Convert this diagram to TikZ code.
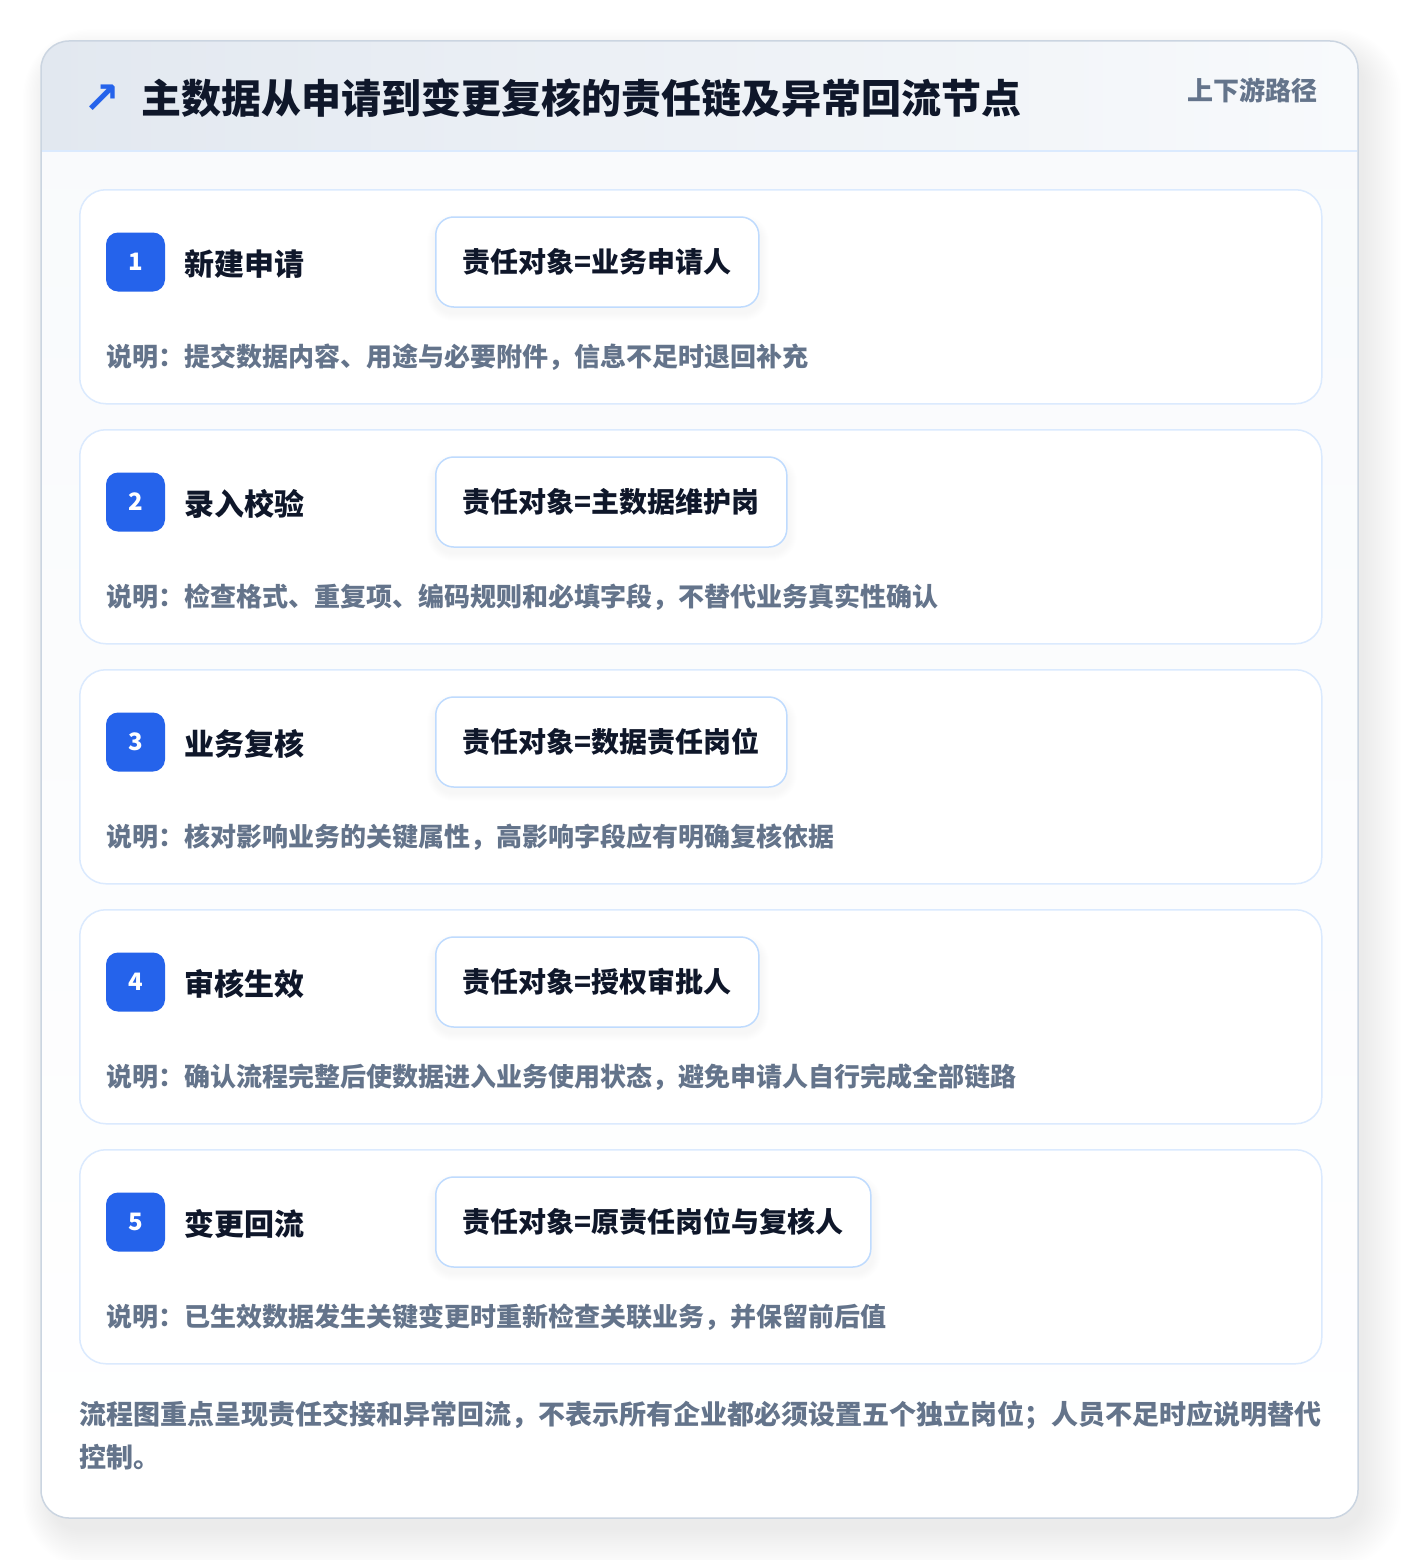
\documentclass[tikz,border=0pt]{standalone}
\usepackage{fontspec}
\setmainfont{Noto Sans CJK SC}
\newfontfamily\symfont{DejaVu Sans}
\definecolor{badgeblue}{HTML}{2563EB}
\definecolor{titledark}{HTML}{0F172A}
\definecolor{descgrey}{HTML}{64748B}
\definecolor{cardborder}{HTML}{DBEAFE}
\definecolor{respborder}{HTML}{BFDBFE}
\definecolor{outerborder}{HTML}{CBD5E1}
\definecolor{headleft}{HTML}{E2E8F0}
\definecolor{headright}{HTML}{F8FAFC}
\definecolor{bodytop}{HTML}{F8FAFC}
\tikzset{
  stepcard/.style={draw=cardborder, line width=1.5pt, fill=white, rounded corners=26pt, minimum width=1242pt, minimum height=214pt, inner sep=0pt},
  badge/.style={fill=badgeblue, rounded corners=12pt, minimum width=59pt, minimum height=59pt, inner sep=0pt, text=white, font=\bfseries\fontsize{24}{28}\selectfont},
  steptitle/.style={inner sep=0pt, text=titledark, font=\bfseries\fontsize{30}{36}\selectfont},
  respbox/.style={draw=respborder, line width=1.5pt, fill=white, rounded corners=18pt, minimum height=90pt, inner xsep=27pt, inner ysep=0pt, text=titledark, font=\bfseries\fontsize{28}{34}\selectfont},
  desc/.style={inner sep=0pt, text=descgrey, font=\bfseries\fontsize{26}{32}\selectfont},
  foot/.style={inner sep=0pt, text=descgrey, font=\bfseries\fontsize{27}{32}\selectfont},
}
\begin{document}
\begin{tikzpicture}[x=1pt,y=-1pt]
\useasboundingbox (0,0) rectangle (1400,1560);
\fill[white] (0,0) rectangle (1400,1560);
% outer shadow
\foreach \s in {1,...,20}{
  \pgfmathsetmacro\rr{28+2*\s}
  \fill[black, opacity=0.0045, rounded corners=\rr pt] (41-1.4*\s+10,41-1.4*\s+16) rectangle (1358+2*\s+4,1518+2*\s+10);
}
% card body
\shade[top color=bodytop, bottom color=white, rounded corners=28pt] (41,41) rectangle (1358,1518);
\begin{scope}
  \clip[rounded corners=28pt] (41,41) rectangle (1358,1518);
  \shade[left color=headleft, right color=headright] (41,41) rectangle (1358,151);
\end{scope}
\draw[cardborder, line width=1.5pt] (42,151) -- (1357,151);
\draw[outerborder, line width=1.5pt, rounded corners=28pt] (41,41) rectangle (1358,1518);
% header
\node[inner sep=0pt, text=badgeblue, font=\symfont\bfseries\fontsize{44}{50}\selectfont] (arrow) at (102,99) {↗};
\node[inner sep=0pt, anchor=west, text=titledark, font=\bfseries\fontsize{40}{48}\selectfont] (title) at (141,98) {主数据从申请到变更复核的责任链及异常回流节点};
\node[inner sep=0pt, anchor=east, text=descgrey, font=\bfseries\fontsize{26}{32}\selectfont] (tag) at (1318,90) {上下游路径};
% steps
\node[stepcard, anchor=north west] (card1) at (79,189) {};
\node[stepcard, anchor=north west] (card2) at (79,429) {};
\node[stepcard, anchor=north west] (card3) at (79,669) {};
\node[stepcard, anchor=north west] (card4) at (79,909) {};
\node[stepcard, anchor=north west] (card5) at (79,1149) {};
\foreach \n/\t/\w in {1/189/326,2/429/354,3/669/354,4/909/326,5/1149/438}{
  \foreach \s in {1,...,8}{
    \pgfmathsetmacro\rr{18+\s}
    \fill[black, opacity=0.005, rounded corners=\rr pt] (435-\s,\t+28+6-\s) rectangle (435+\w+\s,\t+118+6+\s);
  }
}
\foreach \n/\t/\a/\b/\c in {
  1/189/新建申请/责任对象=业务申请人/说明：提交数据内容、用途与必要附件，信息不足时退回补充,
  2/429/录入校验/责任对象=主数据维护岗/说明：检查格式、重复项、编码规则和必填字段，不替代业务真实性确认,
  3/669/业务复核/责任对象=数据责任岗位/说明：核对影响业务的关键属性，高影响字段应有明确复核依据,
  4/909/审核生效/责任对象=授权审批人/说明：确认流程完整后使数据进入业务使用状态，避免申请人自行完成全部链路,
  5/1149/变更回流/责任对象=原责任岗位与复核人/说明：已生效数据发生关键变更时重新检查关联业务，并保留前后值}{
  \node[badge] (badge\n) at (135.5,\t+73) {\n};
  \node[steptitle, anchor=west] (stitle\n) at (184,\t+75) {\a};
  \node[respbox, anchor=west] (resp\n) at (435,\t+73) {\b};
  \node[desc, anchor=west] (desc\n) at (106,\t+168) {\c};
}
% footer
\node[foot, anchor=west] (footA) at (79,1415) {流程图重点呈现责任交接和异常回流，不表示所有企业都必须设置五个独立岗位；人员不足时应说明替代};
\node[foot, anchor=west] (footB) at (79,1457) {控制。};
\end{tikzpicture}
\end{document}
